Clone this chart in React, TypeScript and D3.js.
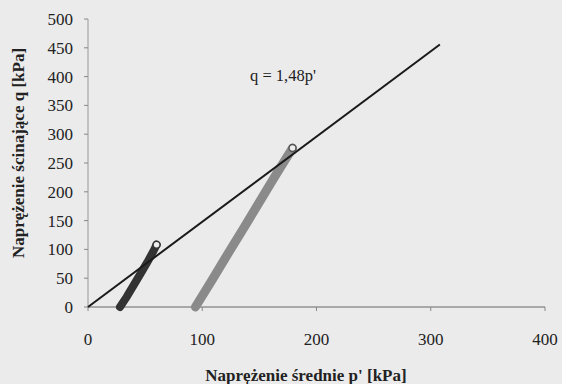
import React from "react";
import * as d3 from "d3";

const xTicks = [0, 100, 200, 300, 400];
const yTicks = [0, 50, 100, 150, 200, 250, 300, 350, 400, 450, 500];
const fitLineP = [0, 308];
const fitSlope = 1.48;
const darkP = [28, 34, 40, 46, 52, 57, 60];
const darkQ = [0, 18, 38, 58, 78, 96, 108];
const grayP = [94, 108, 122, 136, 150, 164, 179];
const grayQ = [0, 45, 91, 136, 182, 228, 276];

const W = 562, H = 384;

export default function App() {
  const x = d3.scaleLinear().domain([0, 400]).range([88, 545]);
  const y = d3.scaleLinear().domain([0, 500]).range([307, 19]);
  const line = d3.line<[number, number]>().x(d => x(d[0])).y(d => y(d[1]));
  const dark: [number, number][] = darkP.map((p, i) => [p, darkQ[i]]);
  const gray: [number, number][] = grayP.map((p, i) => [p, grayQ[i]]);
  const fit: [number, number][] = fitLineP.map(p => [p, p * fitSlope]);
  const font = "'Liberation Serif', 'Times New Roman', serif";
  const dEnd = dark[dark.length - 1];
  const gEnd = gray[gray.length - 1];
  return (
    <svg width={W} height={H} style={{ position: "absolute", left: 0, top: 0 }} fontFamily={font}>
      <rect width={W} height={H} fill="#ebebeb" />
      <line x1={x(0)} x2={x(400)} y1={y(0)} y2={y(0)} stroke="#666" strokeWidth={1} />
      <line x1={x(0)} x2={x(0)} y1={y(0)} y2={y(500)} stroke="#999" strokeWidth={1} />
      {yTicks.map(t => (
        <g key={"y" + t}>
          <line x1={x(0) - 4} x2={x(0)} y1={y(t)} y2={y(t)} stroke="#888" />
          <text x={73} y={y(t)} dy="0.35em" textAnchor="end" fontSize={17} fill="#222">{t}</text>
        </g>
      ))}
      {xTicks.map(t => (
        <g key={"x" + t}>
          <line x1={x(t)} x2={x(t)} y1={y(0)} y2={y(0) + 4} stroke="#888" />
          <text x={x(t)} y={345} textAnchor="middle" fontSize={17} fill="#222">{t}</text>
        </g>
      ))}
      <path d={line(gray) || ""} fill="none" stroke="#8a8a8a" strokeWidth={9} strokeLinecap="round" />
      <path d={line(dark) || ""} fill="none" stroke="#333" strokeWidth={8} strokeLinecap="round" />
      <path d={line(fit) || ""} fill="none" stroke="#1a1a1a" strokeWidth={2} />
      <circle cx={x(dEnd[0])} cy={y(dEnd[1])} r={3.5} fill="#eee" stroke="#333" strokeWidth={1.5} />
      <circle cx={x(gEnd[0])} cy={y(gEnd[1])} r={3.5} fill="#eee" stroke="#555" strokeWidth={1.5} />
      <text x={250} y={81} fontSize={16.5} fill="#222">q = 1,48p'</text>
      <text x={306} y={381} textAnchor="middle" fontSize={17} fontWeight="bold" fill="#222">Naprężenie średnie p' [kPa]</text>
      <text transform={`translate(18,153) rotate(-90)`} textAnchor="middle" dy="0.35em" fontSize={17} fontWeight="bold" fill="#222">Naprężenie ścinające q [kPa]</text>
    </svg>
  );
}
